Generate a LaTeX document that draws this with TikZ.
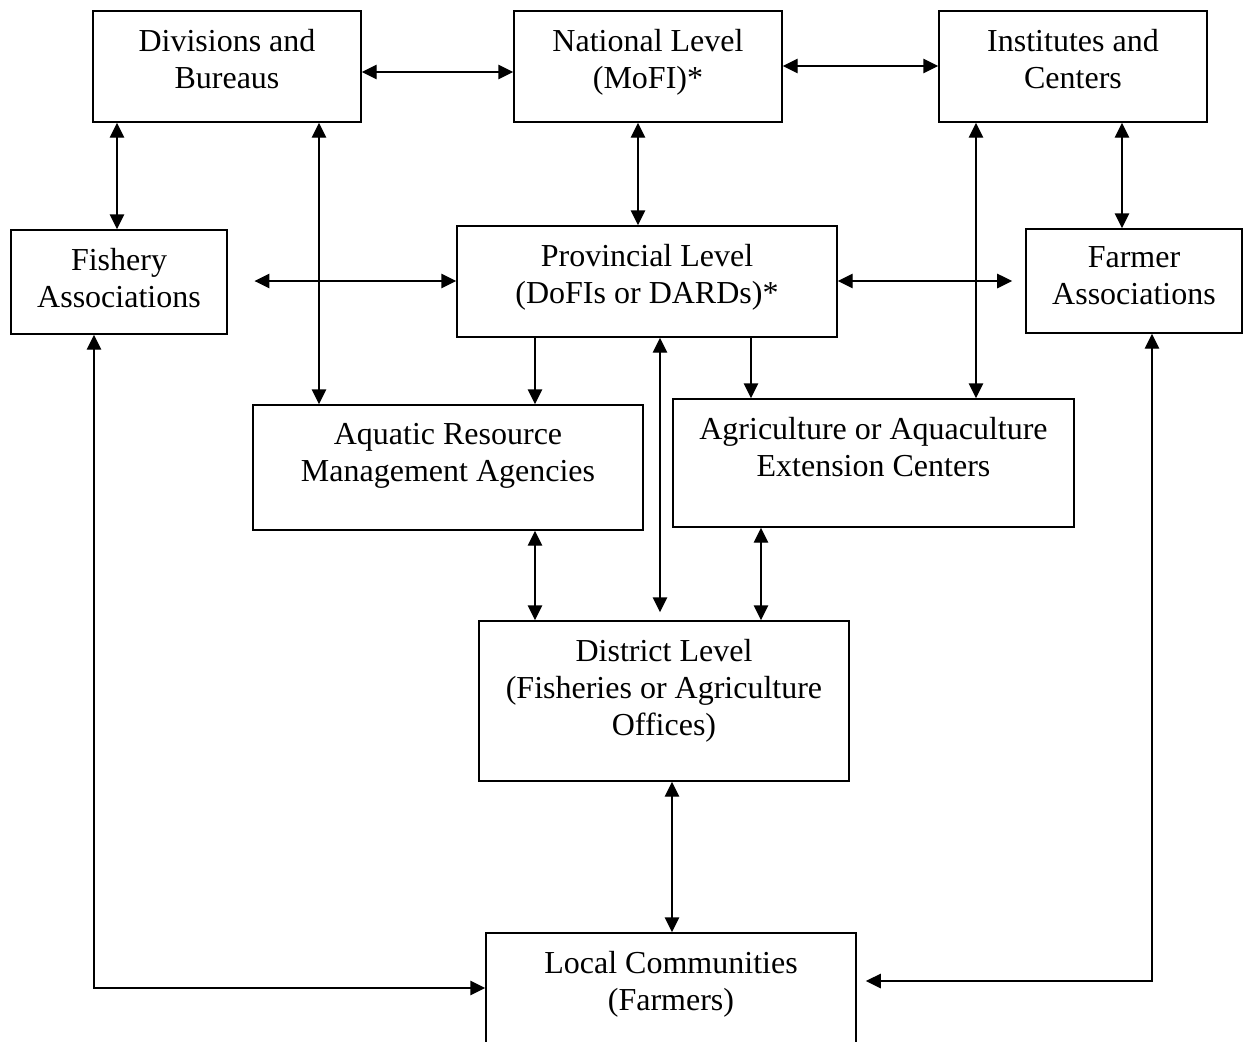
\documentclass[tikz,border=0pt]{standalone}
\usepackage{fontspec}
\setmainfont{Liberation Serif}
\usetikzlibrary{arrows.meta}

\tikzset{
    box/.style 2 args={draw, line width=0.6pt, minimum width=#1*0.375pt,
        minimum height=#2*0.375pt, inner sep=0pt},
    txt/.style={anchor=north, yshift=-6.8pt, align=center, inner sep=0pt},
    link/.style={line width=0.55pt,
        {Triangle[length=5.6pt,width=5.4pt]}-{Triangle[length=5.6pt,width=5.4pt]}},
    feed/.style={line width=0.55pt, -{Triangle[length=5.6pt,width=5.4pt]}},
}

\begin{document}
\begin{tikzpicture}[x=0.375pt, y=-0.375pt, font=\fontsize{12pt}{13.9pt}\selectfont]

    \path[use as bounding box, clip] (0,0) rectangle (1244,1041);

    \node[box={268}{111}, label={[txt]north:Divisions and\\Bureaus}] (div) at (227,66.5) {};
    \node[box={268}{111}, label={[txt]north:National Level\\(MoFI)*}] (nat) at (648,66.5) {};
    \node[box={268}{111}, label={[txt]north:Institutes and\\Centers}] (ins) at (1073,66.5) {};
    \node[box={216}{104}, label={[txt]north:Fishery\\Associations}] (fish) at (119,282) {};
    \node[box={380}{111}, label={[txt]north:Provincial Level\\(DoFIs or DARDs)*}] (prov) at (647,281.5) {};
    \node[box={216}{104}, label={[txt]north:Farmer\\Associations}] (farm) at (1134,281) {};
    \node[box={390}{125}, label={[txt]north:Aquatic Resource\\Management Agencies}] (aqua) at (448,467.5) {};
    \node[box={401}{128}, label={[txt]north:Agriculture or Aquaculture\\Extension Centers}] (agri) at (873.5,463) {};
    \node[box={370}{160}, label={[txt]north:District Level\\(Fisheries or Agriculture\\Offices)}] (dist) at (664,701) {};
    \node[box={370}{115}, label={[txt]north:Local Communities\\(Farmers)}] (local) at (671,990.5) {};

    \draw[link] (div.east |- 0,72) -- (nat.west |- 0,72);
    \draw[link] (nat.east |- 0,66) -- (ins.west |- 0,66);
    \draw[link] (div.south -| 117,0) -- (fish.north -| 117,0);
    \draw[link] (div.south -| 319,0) -- (aqua.north -| 319,0);
    \draw[link] (nat.south -| 638,0) -- (prov.north -| 638,0);
    \draw[link] (ins.south -| 976,0) -- (agri.north -| 976,0);
    \draw[link] (ins.south -| 1122,0) -- (farm.north -| 1122,0);
    \draw[link, shorten <=10pt] (fish.east |- 0,281) -- (prov.west |- 0,281);
    \draw[link, shorten >=4.9pt] (prov.east |- 0,281) -- (farm.west |- 0,281);
    \draw[feed] (prov.south -| 535,0) -- (aqua.north -| 535,0);
    \draw[feed] (prov.south -| 751,0) -- (agri.north -| 751,0);
    \draw[link, shorten >=3pt] (prov.south -| 660,0) -- (dist.north -| 660,0);
    \draw[link] (aqua.south -| 535,0) -- (dist.north -| 535,0);
    \draw[link] (agri.south -| 761,0) -- (dist.north -| 761,0);
    \draw[link] (dist.south -| 672,0) -- (local.north -| 672,0);
    \draw[link] (fish.south -| 94,0) |- (local.west |- 0,988);
    \draw[link, shorten >=3.4pt] (farm.south -| 1152,0) |- (local.east |- 0,981);

\end{tikzpicture}
\end{document}
